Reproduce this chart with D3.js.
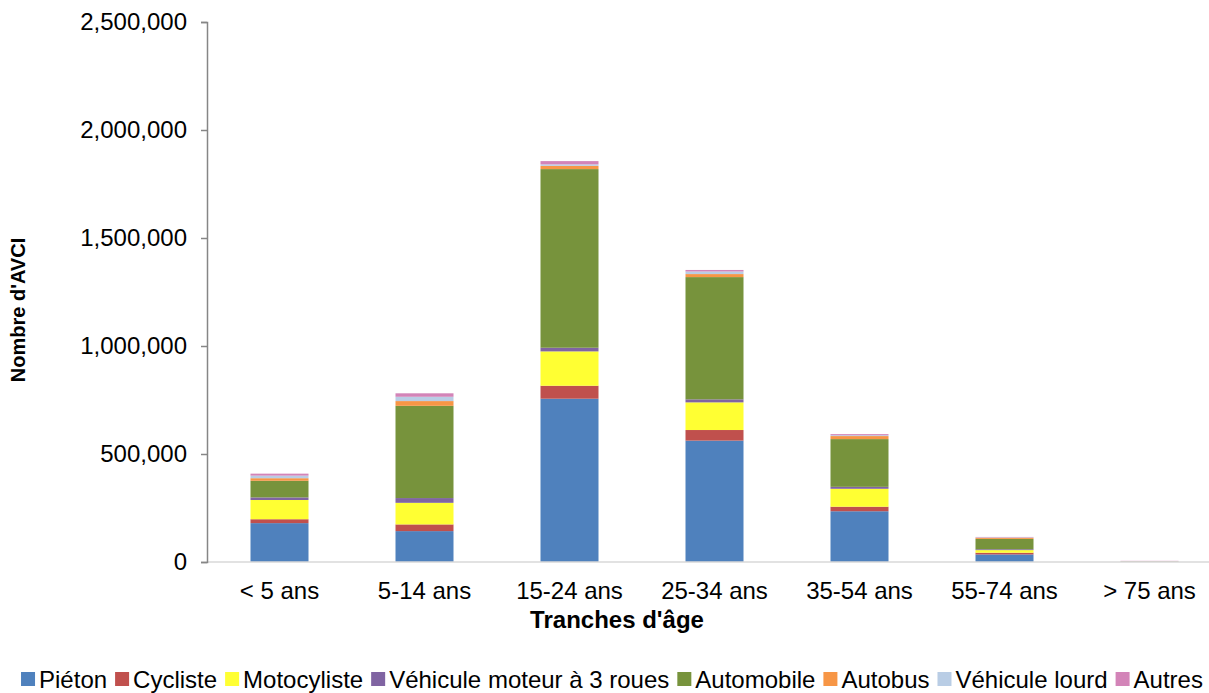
<!DOCTYPE html>
<html>
<head>
<meta charset="utf-8">
<script src="https://cdn.jsdelivr.net/npm/d3@7"></script>
<style>
  body { margin: 0; background: #fff; }
  svg { display: block; font-family: "Liberation Sans", Arial, sans-serif; }
</style>
</head>
<body>
<svg id="MyGraph" width="1209" height="693"></svg>
<script>
// tranches d'âge
var ageGroups = ["< 5 ans", "5-14 ans", "15-24 ans", "25-34 ans", "35-54 ans", "55-74 ans", "> 75 ans"];

// series, one value per age group (AVCI)
var pieton      = [180000, 143000, 756000, 562000, 235000, 35000, 1000];
var cycliste    = [ 18000,  31000,  60000,  49000,  21000,  8000,  300];
var motocyliste = [ 89000, 100000, 159000, 128000,  83000, 12000,  500];
var troisRoues  = [ 12000,  22000,  17000,  14000,   9000,  4000,  200];
var automobile  = [ 77000, 427000, 827000, 566000, 221000, 48000, 1000];
var autobus     = [ 12000,  22000,  15000,  14000,  14000,  5000,  300];
var lourd       = [ 12000,  20000,   7000,  12000,   4000,  2000,  500];
var autres      = [  9000,  16000,  15000,   7000,   5000,  2000, 1500];

var seriesNames = ["Piéton", "Cycliste", "Motocyliste", "Véhicule moteur à 3 roues",
                   "Automobile", "Autobus", "Véhicule lourd", "Autres"];
var seriesValues = [pieton, cycliste, motocyliste, troisRoues, automobile, autobus, lourd, autres];
var colors = ["#4f81bd", "#c0504d", "#ffff33", "#8064a2", "#77933c", "#f79646", "#b9cde5", "#d384b8"];

var yTicks = [0, 500000, 1000000, 1500000, 2000000, 2500000];

// table for d3.stack
var data = ageGroups.map(function(g, i){
  var row = {age: g};
  seriesNames.forEach(function(s, j){ row[s] = seriesValues[j][i]; });
  return row;
});

var svg = d3.select("#MyGraph");

// plot box (right edge runs past the page like in the original)
var plotLeft = 207, plotRight = 1222, plotTop = 22, plotBottom = 562;

var x = d3.scaleBand()
    .domain(ageGroups)
    .range([plotLeft, plotRight])
    .paddingInner(0.6)
    .paddingOuter(0.3);

var y = d3.scaleLinear()
    .domain([0, 2500000])
    .range([plotBottom, plotTop]);

var z = d3.scaleOrdinal().domain(seriesNames).range(colors);

var stacked = d3.stack().keys(seriesNames)(data);

svg.append("g")
    .selectAll("g")
    .data(stacked)
    .enter().append("g")
    .attr("fill", function(d){ return z(d.key); })
    .selectAll("rect")
    .data(function(d){ return d; })
    .enter().append("rect")
    .attr("x", function(d){ return x(d.data.age); })
    .attr("y", function(d){ return y(d[1]); })
    .attr("height", function(d){ return y(d[0]) - y(d[1]); })
    .attr("width", x.bandwidth());

// x axis
var xAxis = svg.append("g")
    .attr("transform", "translate(0," + plotBottom + ")")
    .call(d3.axisBottom(x).tickSize(0).tickPadding(20));
xAxis.select(".domain").attr("stroke", "#d9d9d9").attr("stroke-width", 1.5)
    .attr("d", "M" + plotLeft + ",0H" + 1209);
xAxis.selectAll("text").attr("font-size", 24).attr("fill", "#000")
    .attr("font-family", "Liberation Sans, Arial, sans-serif");

// y axis
var yAxis = svg.append("g")
    .attr("transform", "translate(" + plotLeft + ",0)")
    .call(d3.axisLeft(y).tickValues(yTicks).tickFormat(d3.format(",")).tickSizeOuter(0).tickSize(6).tickPadding(14));
yAxis.select(".domain").attr("stroke", "#868686").attr("stroke-width", 1.5);
yAxis.selectAll(".tick line").attr("stroke", "#868686").attr("stroke-width", 1.5);
yAxis.selectAll("text").attr("font-size", 24).attr("fill", "#000")
    .attr("font-family", "Liberation Sans, Arial, sans-serif");

// axis titles
svg.append("text")
    .attr("x", 617).attr("y", 628)
    .attr("text-anchor", "middle")
    .attr("font-size", 24).attr("font-weight", "bold")
    .text("Tranches d'âge");

svg.append("text")
    .attr("transform", "translate(25,310) rotate(-90)")
    .attr("text-anchor", "middle")
    .attr("font-size", 20).attr("font-weight", "bold")
    .text("Nombre d'AVCI");

// legend, laid out in one centered row
var legend = svg.append("g").attr("font-size", 24);
var items = legend.selectAll("g")
    .data(seriesNames)
    .enter().append("g");
items.append("rect")
    .attr("width", 14).attr("height", 14)
    .attr("y", 672)
    .attr("fill", z);
items.append("text")
    .attr("x", 18).attr("y", 688)
    .text(function(d){ return d; });

var pos = 0;
items.each(function(){
  var w = d3.select(this).select("text").node().getComputedTextLength();
  d3.select(this).attr("data-x", pos);
  pos += 18 + w + 8;
});
var offset = 612 - (pos - 8) / 2;
items.attr("transform", function(){
  return "translate(" + (offset + (+d3.select(this).attr("data-x"))) + ",0)";
});
</script>
</body>
</html>
